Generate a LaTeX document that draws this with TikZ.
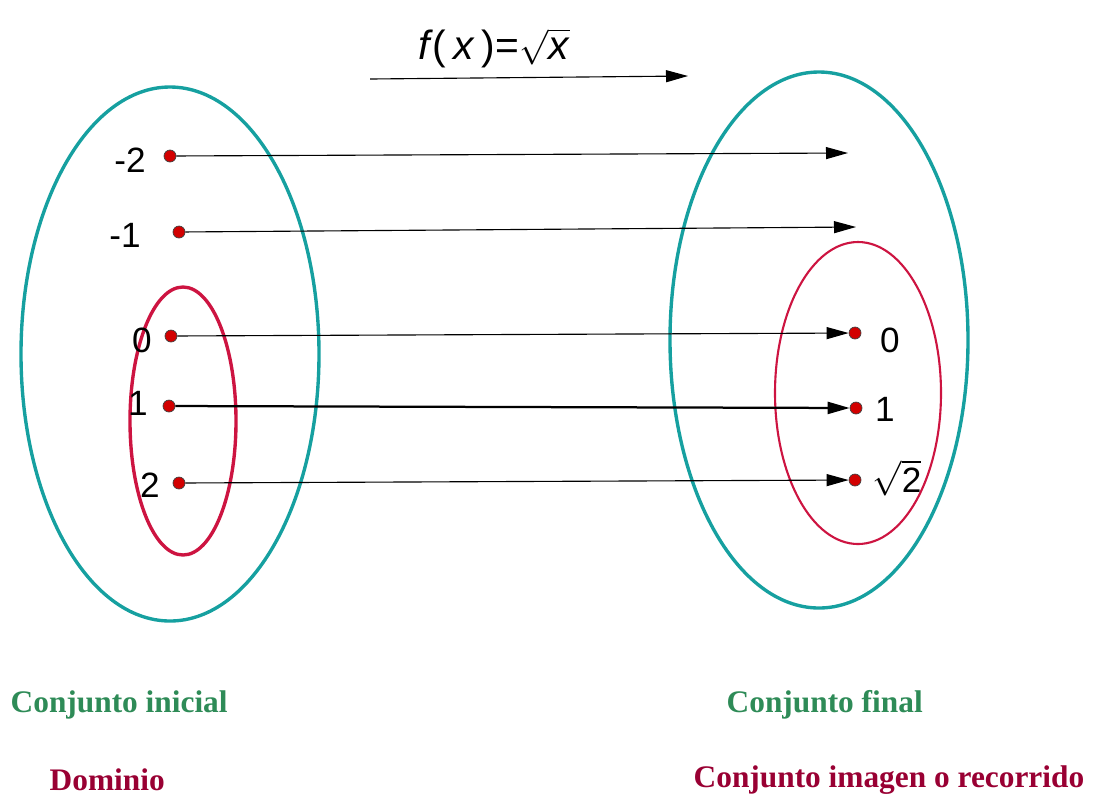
\documentclass[tikz,border=0pt]{standalone}
\usepackage{fontspec}
\setmainfont{Liberation Serif}
\newfontfamily\numfont{Liberation Sans}
\usetikzlibrary{arrows.meta, positioning}
\definecolor{SetTeal}{RGB}{22,160,160}
\definecolor{SetRed}{RGB}{205,20,65}
\definecolor{DotRed}{RGB}{210,0,0}
\definecolor{LabGreen}{RGB}{46,139,87}
\definecolor{LabWine}{RGB}{153,0,51}

\begin{document}
\begin{tikzpicture}[
    x=0.025cm, y=-0.025cm,
    every node/.style={font=\numfont\fontsize{25}{30}\selectfont, inner sep=1pt},
    elem/.style={circle, fill=DotRed, draw=black!75, line width=0.5pt,
                 inner sep=0pt, minimum size=0.3cm},
    setout/.style={draw=SetTeal, line width=2.4pt},
    setin/.style={draw=SetRed, line width=2.4pt},
    maps/.style={-{Triangle[length=0.55cm, width=0.3cm]}, line width=0.8pt},
    caption/.style={font=\bfseries\fontsize{22.3}{26}\selectfont, anchor=west}
]
\useasboundingbox (0,0) rectangle (1096,798);
% sets
\draw[setout] (170,354) ellipse [x radius=149, y radius=267];
\draw[setin] (183,421) ellipse [x radius=53, y radius=134];
\draw[setout] (819,340) ellipse [x radius=149, y radius=268];
\draw[setin, line width=1.5pt] (858,393) ellipse [x radius=83, y radius=151];
% elements
\node[elem] (dm2) at (170,156) {};
\node[elem] (dm1) at (179,232) {};
\node[elem] (d0) at (171,336) {};
\node[elem] (d1) at (169,406) {};
\node[elem] (d2) at (179,483) {};
\node[elem] (r0) at (855,333) {};
\node[elem] (r1) at (856,408) {};
\node[elem] (r2) at (855,480) {};
\coordinate (em2) at (848,153);
\coordinate (em1) at (856,227);
\node (tdm2) at (130,160) {-2};
\node (tdm1) at (125,235) {-1};
\node (td0) at (142,340) {0};
\node (td1) at (138,403) {1};
\node (td2) at (150,485) {2};
\node (tr0) at (890,340) {0};
\node (tr1) at (885,409) {1};
\node[inner sep=0pt] (tr2) at (897,478) {$\sqrt{\mbox{2}}$};
% the function
\node[font=\numfont\fontsize{29}{34}\selectfont] (fx) at (494,48)
    {\textit{f}(\,\textit{x}\,)=$\sqrt{\mbox{\textit{x}}}$};
\coordinate (fa) at (370,79);
\coordinate (fb) at (688,76);
\draw[maps] (fa) -- (fb);
\draw[maps] (dm2) -- (em2);
\draw[maps] (dm1) -- (em1);
\draw[maps] (d0) -- (r0);
\draw[maps, line width=1.6pt] (d1) -- (r1);
\draw[maps] (d2) -- (r2);
% captions
\node[caption, text=LabGreen] (ini) at (9,705) {Conjunto inicial};
\node[caption, text=LabGreen] (fin) at (725,705) {Conjunto final};
\node[caption, text=LabWine] (dom) at (48,780) {Dominio};
\node[caption, text=LabWine] (rec) at (692,780) {Conjunto imagen o recorrido};
\end{tikzpicture}
\end{document}
